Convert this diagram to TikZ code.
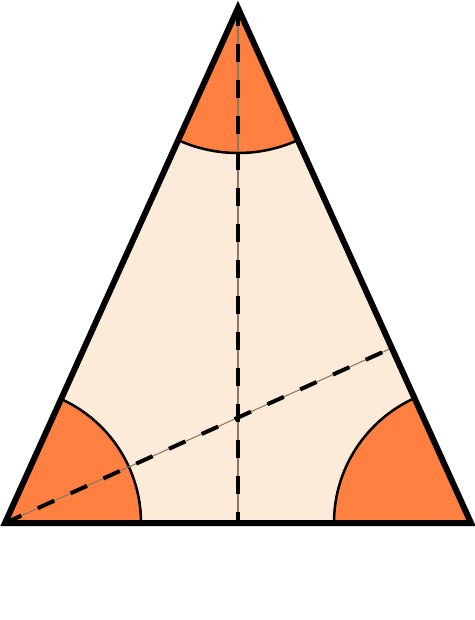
\documentclass[tikz,border=0pt]{standalone}
\usetikzlibrary{calc}

\tikzset{every picture/.style={line width=0.75pt}}
\tikzset{
  thinline/.style={draw={rgb, 255:red, 140; green, 120; blue, 100 }, line width=0.8},
  thickdash/.style={draw={rgb, 255:red, 0; green, 0; blue, 0 }, line width=3, dash pattern=on 13.5pt off 13.5pt},
  cornerfill/.style={fill={rgb, 255:red, 255; green, 128; blue, 64 }},
}

\begin{document}
\begin{tikzpicture}[x=0.75pt,y=0.75pt,yscale=-1,xscale=1]
%set diagram left start at 0, and has height of 620
\path[use as bounding box, fill=white] (0,0) rectangle (474,620);

%Corners
\coordinate (A) at (238,8);
\coordinate (B) at (5,523);
\coordinate (C) at (471,523);
\coordinate (M) at ($(B)!0.5!(C)$);
\coordinate (H) at ($(A)!(B)!(C)$);

%Shape: Triangle [id:body]
\fill [color={rgb, 255:red, 253; green, 235; blue, 217 }] (A) -- (B) -- (C) -- cycle;

%Shape: Sectors
\begin{scope}
\clip (A) -- (B) -- (C) -- cycle;
\fill [cornerfill] (A) circle (145);
\fill [cornerfill] (B) circle (136);
\fill [cornerfill] (C) circle (137);
\draw [line width=1.9] (A) circle (145);
\draw [line width=1.9] (B) circle (136);
\draw [line width=1.9] (C) circle (137);
\end{scope}

%Straight Lines: altitudes
\draw [thinline] (A) -- (M);
\draw [thickdash] (A) -- (M);
\draw [thinline] (B) -- (H);
\draw [thickdash] (B) -- (H);

%Shape: Triangle outline
\draw [line width=4.5, line join=miter] (A) -- (B) -- (C) -- cycle;

\end{tikzpicture}
\end{document}
